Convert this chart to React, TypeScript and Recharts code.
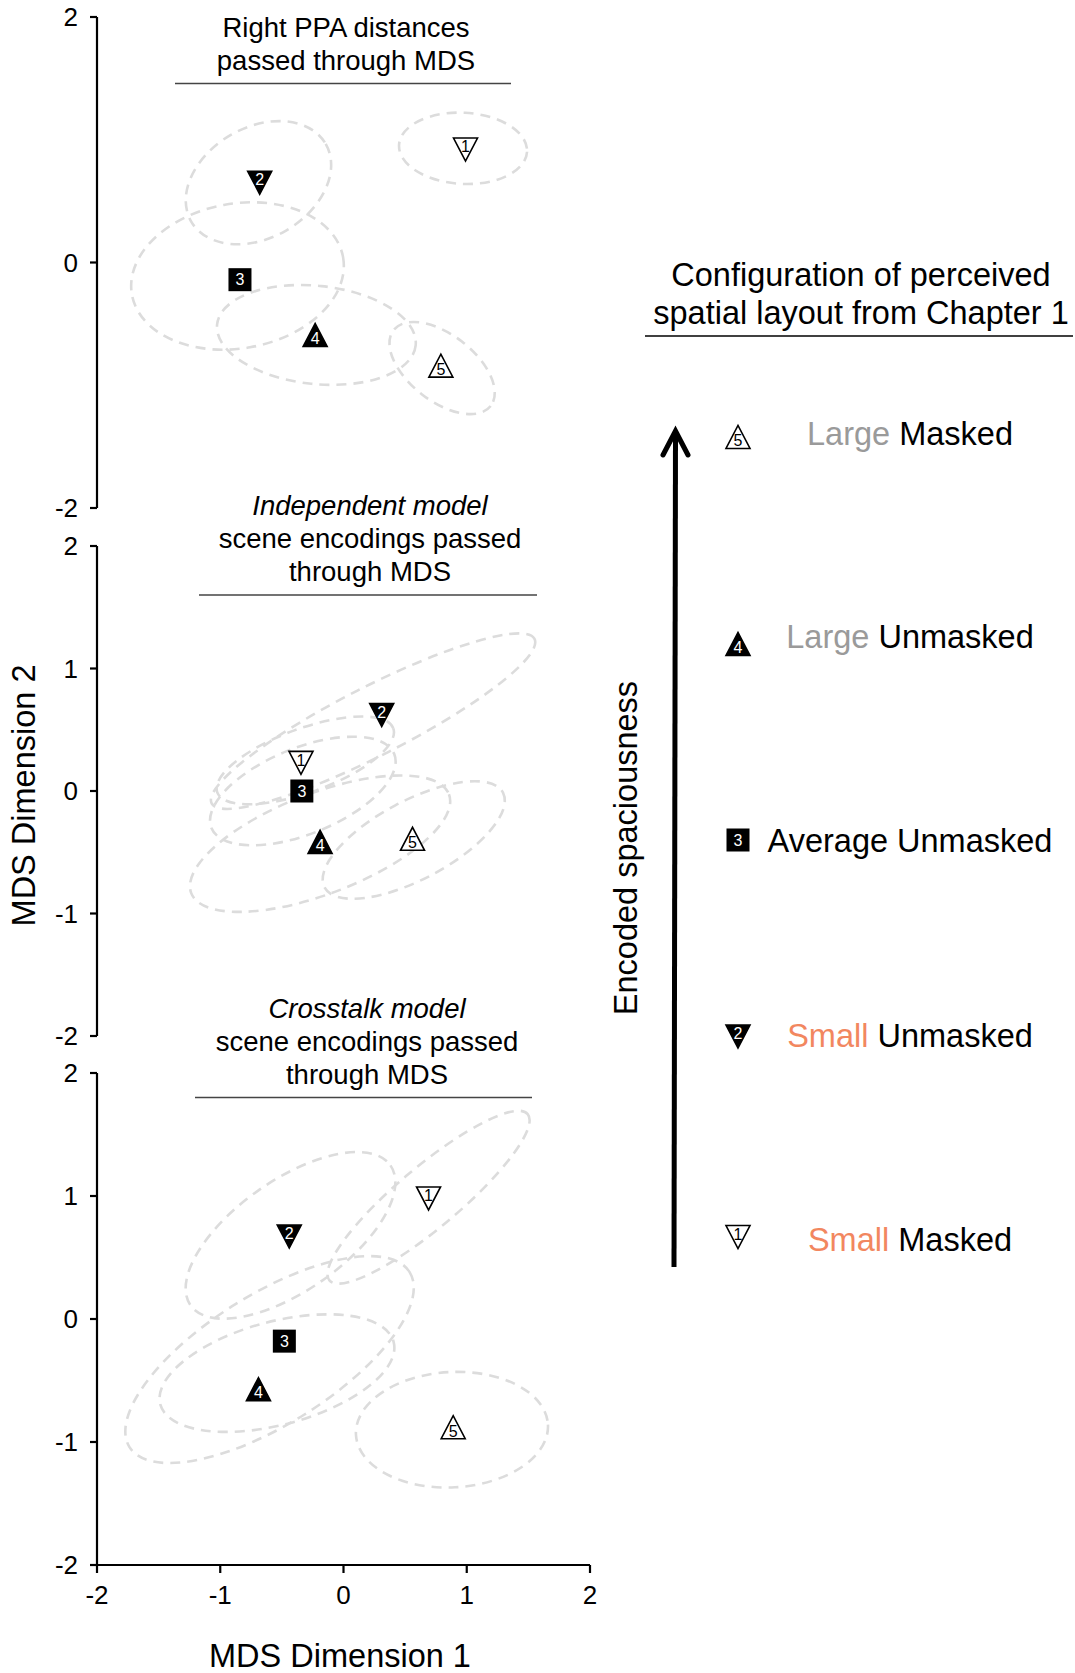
import React from 'react';
import { ScatterChart, Scatter, XAxis, YAxis } from 'recharts';

// ---------- data ----------
const markerIds = [1, 2, 3, 4, 5];

const ppaX = [0.99, -0.68, -0.84, -0.23, 0.79];
const ppaY = [0.92, 0.65, -0.14, -0.59, -0.84];

const independentX = [-0.345, 0.31, -0.338, -0.19, 0.56];
const independentY = [0.23, 0.62, 0.0, -0.415, -0.39];

const crosstalkX = [0.69, -0.44, -0.48, -0.69, 0.89];
const crosstalkY = [0.98, 0.67, -0.18, -0.57, -0.88];

// ellipses: centre, semi-axes (data units), rotation in degrees (counter-clockwise)
const ppaEllipses = [
  { cx: 0.97, cy: 0.93, rx: 0.52, ry: 0.29, angle: -3 },
  { cx: -0.69, cy: 0.65, rx: 0.63, ry: 0.45, angle: 30 },
  { cx: -0.86, cy: -0.11, rx: 0.87, ry: 0.59, angle: 10 },
  { cx: -0.22, cy: -0.59, rx: 0.81, ry: 0.4, angle: -6 },
  { cx: 0.8, cy: -0.86, rx: 0.5, ry: 0.27, angle: -38 },
];

const independentEllipses = [
  { cx: -0.31, cy: 0.25, rx: 0.76, ry: 0.26, angle: 20 },
  { cx: 0.24, cy: 0.57, rx: 1.47, ry: 0.28, angle: 27 },
  { cx: -0.33, cy: 0.0, rx: 0.8, ry: 0.35, angle: 22 },
  { cx: -0.19, cy: -0.43, rx: 1.12, ry: 0.41, angle: 21 },
  { cx: 0.57, cy: -0.4, rx: 0.82, ry: 0.32, angle: 28 },
];

const crosstalkEllipses = [
  { cx: 0.69, cy: 0.99, rx: 1.05, ry: 0.25, angle: 40 },
  { cx: -0.43, cy: 0.68, rx: 0.99, ry: 0.45, angle: 35 },
  { cx: -0.6, cy: -0.33, rx: 1.34, ry: 0.53, angle: 32 },
  { cx: -0.54, cy: -0.44, rx: 0.98, ry: 0.42, angle: 15 },
  { cx: 0.88, cy: -0.9, rx: 0.78, ry: 0.47, angle: 3 },
];

const xTicks = [-2, -1, 0, 1, 2];
const yTicksSparse = [-2, 0, 2];
const yTicksFull = [-2, -1, 0, 1, 2];

const panelTitles = [
  ['Right PPA distances', 'passed through MDS'],
  ['Independent model', 'scene encodings passed', 'through MDS'],
  ['Crosstalk model', 'scene encodings passed', 'through MDS'],
];

const legendSize = ['Large', 'Large', 'Average', 'Small', 'Small'];
const legendMask = ['Masked', 'Unmasked', 'Unmasked', 'Unmasked', 'Masked'];
const legendIds = [5, 4, 3, 2, 1];

// ---------- layout ----------
const FONT = '"Liberation Sans", Arial, Helvetica, sans-serif';
const PLOT_LEFT = 97;
const PLOT_W = 493;
const CHART_W = 610;
const DOMAIN: [number, number] = [-2, 2];
const X_UNIT = PLOT_W / (DOMAIN[1] - DOMAIN[0]);
const Y_UNIT = 491 / (DOMAIN[1] - DOMAIN[0]);

const ELLIPSE_STROKE = '#dcdcdc';
const SALMON = '#f2875f';
const GREY = '#9a9a9a';

function Marker({ cx, cy, id }: { cx: number; cy: number; id: number }) {
  const hw = 12;
  const hh = 11.5;
  const dark = id === 2 || id === 3 || id === 4;
  const fill = dark ? '#000' : '#fff';
  const txt = dark ? '#fff' : '#000';
  let shape: React.ReactNode;
  let ty = cy;
  if (id === 3) {
    shape = <rect x={cx - 11.5} y={cy - 11.5} width={23} height={23} fill="#000" />;
  } else if (id === 1 || id === 2) {
    shape = (
      <polygon
        points={`${cx - hw},${cy - hh} ${cx + hw},${cy - hh} ${cx},${cy + hh}`}
        fill={fill}
        stroke="#000"
        strokeWidth={1.6}
        strokeLinejoin="miter"
      />
    );
    ty = cy - 3;
  } else {
    shape = (
      <polygon
        points={`${cx - hw},${cy + hh} ${cx + hw},${cy + hh} ${cx},${cy - hh}`}
        fill={fill}
        stroke="#000"
        strokeWidth={1.6}
        strokeLinejoin="miter"
      />
    );
    ty = cy + 3.5;
  }
  return (
    <g>
      {shape}
      <text
        x={cx}
        y={ty}
        dy="0.36em"
        textAnchor="middle"
        fontSize={16}
        fontFamily={FONT}
        fill={txt}
      >
        {id}
      </text>
    </g>
  );
}

const markerShape = (props: any) => {
  const { cx, cy, payload } = props;
  if (cx == null || cy == null) return <g />;
  return <Marker cx={cx} cy={cy} id={payload.id} />;
};

const ellipseShape = (props: any) => {
  const { cx, cy, payload } = props;
  if (cx == null || cy == null) return <g />;
  return (
    <ellipse
      cx={cx}
      cy={cy}
      rx={payload.rx * X_UNIT}
      ry={payload.ry * Y_UNIT}
      transform={`rotate(${-payload.angle} ${cx} ${cy})`}
      fill="none"
      stroke={ELLIPSE_STROKE}
      strokeWidth={2.6}
      strokeDasharray="10 7"
    />
  );
};

function toPoints(xs: number[], ys: number[]) {
  return markerIds.map((id, i) => ({ id, x: xs[i], y: ys[i] }));
}
function toEllipses(es: { cx: number; cy: number; rx: number; ry: number; angle: number }[]) {
  return es.map((e) => ({ x: e.cx, y: e.cy, rx: e.rx, ry: e.ry, angle: e.angle }));
}

const axisLine = { stroke: '#000', strokeWidth: 2.2 };
const tickStyle = { fill: '#000', fontSize: 26, fontFamily: FONT };

function Panel({
  top,
  marginTop,
  plotH,
  showX,
  yTicks,
  xs,
  ys,
  ellipses,
}: {
  top: number;
  marginTop: number;
  plotH: number;
  showX: boolean;
  yTicks: number[];
  xs: number[];
  ys: number[];
  ellipses: any[];
}) {
  const xAxisH = showX ? 70 : 0;
  const height = marginTop + plotH + (showX ? xAxisH : 20);
  return (
    <div style={{ position: 'absolute', left: 0, top }}>
      <ScatterChart
        width={CHART_W}
        height={height}
        margin={{ top: marginTop, right: CHART_W - PLOT_LEFT - PLOT_W, bottom: showX ? 0 : 20, left: 0 }}
      >
        <XAxis
          type="number"
          dataKey="x"
          domain={DOMAIN}
          ticks={xTicks}
          hide={!showX}
          height={xAxisH}
          axisLine={axisLine}
          tickLine={axisLine}
          tickSize={8}
          tickMargin={13}
          tick={tickStyle}
          allowDataOverflow
        />
        <YAxis
          type="number"
          dataKey="y"
          domain={DOMAIN}
          ticks={yTicks}
          width={PLOT_LEFT}
          axisLine={axisLine}
          tickLine={axisLine}
          tickSize={7}
          tickMargin={12}
          tick={tickStyle}
          allowDataOverflow
        />
        <Scatter data={toEllipses(ellipses)} shape={ellipseShape} isAnimationActive={false} />
        <Scatter data={toPoints(xs, ys)} shape={markerShape} isAnimationActive={false} />
      </ScatterChart>
    </div>
  );
}

function Overlay() {
  const titleCenters = [346, 370, 367];
  const titleBaselines = [
    [37, 69.5],
    [515, 548, 581],
    [1017.5, 1050.5, 1083.5],
  ];
  const underlines = [
    { x1: 175, x2: 511, y: 83.5 },
    { x1: 199, x2: 537, y: 595 },
    { x1: 195, x2: 532, y: 1097.5 },
  ];
  const legendY = [437, 644, 840, 1036.5, 1237];
  const legendBaseline = [444.5, 648, 852, 1047, 1251];
  return (
    <svg
      width={1075}
      height={1673}
      style={{ position: 'absolute', left: 0, top: 0, pointerEvents: 'none' }}
    >
      {panelTitles.map((lines, p) =>
        lines.map((line, i) => (
          <text
            key={`t${p}-${i}`}
            x={titleCenters[p]}
            y={titleBaselines[p][i]}
            textAnchor="middle"
            fontSize={27.5}
            fontFamily={FONT}
            fontStyle={p > 0 && i === 0 ? 'italic' : 'normal'}
            fill="#000"
          >
            {line}
          </text>
        ))
      )}
      {underlines.map((u, i) => (
        <line key={`u${i}`} x1={u.x1} x2={u.x2} y1={u.y} y2={u.y} stroke="#444" strokeWidth={1.3} />
      ))}

      <text
        x={23.5}
        y={795.5}
        dy="0.36em"
        textAnchor="middle"
        fontSize={32.5}
        fontFamily={FONT}
        transform="rotate(-90 23.5 795.5)"
      >
        MDS Dimension 2
      </text>
      <text x={340} y={1667} textAnchor="middle" fontSize={32.5} fontFamily={FONT}>
        MDS Dimension 1
      </text>

      <text x={861} y={285.5} textAnchor="middle" fontSize={32.5} fontFamily={FONT}>
        Configuration of perceived
      </text>
      <text x={861} y={324} textAnchor="middle" fontSize={32.5} fontFamily={FONT}>
        spatial layout from Chapter 1
      </text>
      <line x1={645} x2={1073} y1={336} y2={336} stroke="#000" strokeWidth={1.3} />

      <line x1={674} y1={1267} x2={675.5} y2={434} stroke="#000" strokeWidth={5} />
      <polyline
        points="663,455 675.5,431 688,455"
        fill="none"
        stroke="#000"
        strokeWidth={5}
        strokeLinecap="round"
        strokeLinejoin="miter"
      />
      <text
        x={625}
        y={848}
        dy="0.36em"
        textAnchor="middle"
        fontSize={32.5}
        fontFamily={FONT}
        transform="rotate(-90 625 848)"
      >
        Encoded spaciousness
      </text>

      {legendIds.map((id, i) => (
        <g key={`l${i}`}>
          <Marker cx={738} cy={legendY[i]} id={id} />
          <text
            x={910}
            y={legendBaseline[i]}
            textAnchor="middle"
            fontSize={32.5}
            fontFamily={FONT}
          >
            <tspan fill={legendSize[i] === 'Small' ? SALMON : legendSize[i] === 'Large' ? GREY : '#000'}>
              {legendSize[i]}
            </tspan>
            <tspan fill="#000"> {legendMask[i]}</tspan>
          </text>
        </g>
      ))}
    </svg>
  );
}

export default function App() {
  return (
    <div
      style={{
        position: 'absolute',
        left: 0,
        top: 0,
        width: 1075,
        height: 1673,
        background: '#fff',
        fontFamily: FONT,
      }}
    >
      <Panel top={0} marginTop={17} plotH={491} showX={false} yTicks={yTicksSparse} xs={ppaX} ys={ppaY} ellipses={ppaEllipses} />
      <Panel top={521} marginTop={25} plotH={490} showX={false} yTicks={yTicksFull} xs={independentX} ys={independentY} ellipses={independentEllipses} />
      <Panel top={1048} marginTop={25} plotH={492} showX={true} yTicks={yTicksFull} xs={crosstalkX} ys={crosstalkY} ellipses={crosstalkEllipses} />
      <Overlay />
    </div>
  );
}
